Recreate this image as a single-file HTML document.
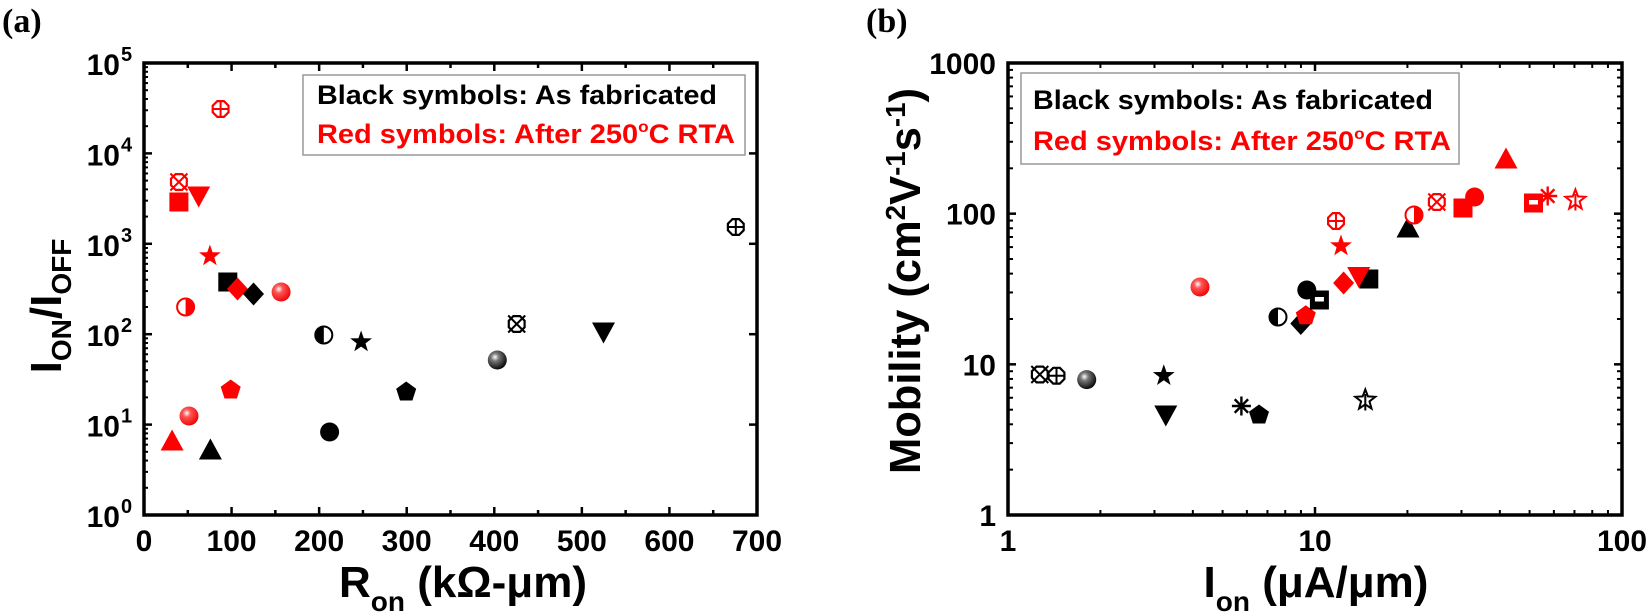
<!DOCTYPE html>
<html><head><meta charset="utf-8"><style>
html,body{margin:0;padding:0;background:#fff;}
svg{display:block;}
text{font-family:"Liberation Sans",Arial,sans-serif;font-weight:bold;}
</style></head><body>
<svg id="s" width="1650" height="615" viewBox="0 0 1650 615" xmlns="http://www.w3.org/2000/svg">
<defs>
<radialGradient id="gk" cx="0.38" cy="0.35" r="0.7"><stop offset="0" stop-color="#fff"/><stop offset="0.3" stop-color="#777"/><stop offset="1" stop-color="#000"/></radialGradient>
<radialGradient id="gr" cx="0.38" cy="0.35" r="0.7"><stop offset="0" stop-color="#fff"/><stop offset="0.3" stop-color="#f55"/><stop offset="1" stop-color="#e00"/></radialGradient>
</defs>
<text x="2" y="32" style="font-family:'Liberation Serif',serif;font-size:34px;font-weight:bold">(a)</text>
<g id="axA"></g>
<rect x="303" y="75" width="442" height="80" fill="#fff" stroke="#999" stroke-width="1.5"/>
<text x="317" y="104" font-size="27" fill="#000" textLength="400" lengthAdjust="spacingAndGlyphs">Black symbols: As fabricated</text>
<text x="317" y="143" font-size="27" fill="#f00" textLength="418" lengthAdjust="spacingAndGlyphs">Red symbols: After 250<tspan font-size="16" dy="-11">o</tspan><tspan dy="11">C RTA</tspan></text>
<text font-size="44" transform="translate(61,306) rotate(-90)" text-anchor="middle">I<tspan font-size="28" dy="10">ON</tspan><tspan dy="-10">/I</tspan><tspan font-size="28" dy="10">OFF</tspan></text>
<text x="463" y="597" font-size="44" text-anchor="middle">R<tspan font-size="28" dy="14">on</tspan><tspan dy="-14"> (kΩ-μm)</tspan></text>
<text x="866" y="32" style="font-family:'Liberation Serif',serif;font-size:34px;font-weight:bold">(b)</text>
<g id="axB"></g>
<rect x="1021" y="73" width="438" height="91" fill="#fff" stroke="#999" stroke-width="1.5"/>
<text x="1033" y="109" font-size="27" fill="#000" textLength="400" lengthAdjust="spacingAndGlyphs">Black symbols: As fabricated</text>
<text x="1033" y="150" font-size="27" fill="#f00" textLength="418" lengthAdjust="spacingAndGlyphs">Red symbols: After 250<tspan font-size="16" dy="-11">o</tspan><tspan dy="11">C RTA</tspan></text>
<text font-size="44" transform="translate(920,281) rotate(-90)" text-anchor="middle" textLength="386" lengthAdjust="spacingAndGlyphs">Mobility (cm<tspan font-size="28" dy="-15">2</tspan><tspan dy="15">V</tspan><tspan font-size="28" dy="-15">-1</tspan><tspan dy="15">s</tspan><tspan font-size="28" dy="-15">-1</tspan><tspan dy="15">)</tspan></text>
<text x="1316" y="597" font-size="44" text-anchor="middle">I<tspan font-size="28" dy="14">on</tspan><tspan dy="-14"> (μA/μm)</tspan></text>
<g id="pts"></g>
</svg>
<script>
var NS="http://www.w3.org/2000/svg";
function el(p,t,a){var e=document.createElementNS(NS,t);for(var k in a)e.setAttribute(k,a[k]);p.appendChild(e);return e;}
function txt(p,x,y,s,anchor,size){var t=el(p,"text",{x:x,y:y,"font-size":size||25,"text-anchor":anchor||"middle"});t.textContent=s;return t;}
var A=document.getElementById("axA");
var L=144,R=757,T=63,B=515;
for(var v=0;v<=700;v+=50){var x=L+v*(R-L)/700;var len=v%100==0?8:5;
 el(A,"line",{x1:x,y1:B,x2:x,y2:B-len,stroke:"#000","stroke-width":2.5});
 el(A,"line",{x1:x,y1:T,x2:x,y2:T+len,stroke:"#000","stroke-width":2.5});
 if(v%100==0)txt(A,x,551,""+v,"middle",30);}
var dec=(B-T)/5;
for(var d=0;d<=5;d++){var y=B-d*dec;
 el(A,"line",{x1:L,y1:y,x2:L+8,y2:y,stroke:"#000","stroke-width":2.5});
 el(A,"line",{x1:R,y1:y,x2:R-8,y2:y,stroke:"#000","stroke-width":2.5});
 txt(A,120,y+12,"10","end",30);txt(A,121,y-2,""+d,"start",20);
 if(d<5)for(var m=2;m<10;m++){var ym=y-Math.log10(m)*dec;el(A,"line",{x1:L,y1:ym,x2:L+4,y2:ym,stroke:"#000","stroke-width":2});}}
el(A,"rect",{x:L,y:T,width:R-L,height:B-T,fill:"none",stroke:"#000","stroke-width":3.5});
var Bx=document.getElementById("axB");
var L2=1008,R2=1622;
var dx=(R2-L2)/2,dy=(B-T)/3;
for(var d=0;d<=2;d++){var x=L2+d*dx;
 el(Bx,"line",{x1:x,y1:B,x2:x,y2:B-8,stroke:"#000","stroke-width":2.5});
 el(Bx,"line",{x1:x,y1:T,x2:x,y2:T+8,stroke:"#000","stroke-width":2.5});
 txt(Bx,x,551,["1","10","100"][d],"middle",30);
 if(d<2)for(var m=2;m<10;m++){var xm=x+Math.log10(m)*dx;el(Bx,"line",{x1:xm,y1:B,x2:xm,y2:B-5,stroke:"#000","stroke-width":2});el(Bx,"line",{x1:xm,y1:T,x2:xm,y2:T+5,stroke:"#000","stroke-width":2});}}
for(var d=0;d<=3;d++){var y=B-d*dy;
 el(Bx,"line",{x1:L2,y1:y,x2:L2+8,y2:y,stroke:"#000","stroke-width":2.5});
 el(Bx,"line",{x1:R2,y1:y,x2:R2-8,y2:y,stroke:"#000","stroke-width":2.5});
 txt(Bx,996,y+11,["1","10","100","1000"][d],"end",30);
 if(d<3)for(var m=2;m<10;m++){var ym=y-Math.log10(m)*dy;el(Bx,"line",{x1:L2,y1:ym,x2:L2+5,y2:ym,stroke:"#000","stroke-width":2});el(Bx,"line",{x1:R2,y1:ym,x2:R2-5,y2:ym,stroke:"#000","stroke-width":2});}}
el(Bx,"rect",{x:L2,y:T,width:R2-L2,height:B-T,fill:"none",stroke:"#000","stroke-width":3.5});
var P=document.getElementById("pts");
function poly(pts){return pts.map(function(p){return p[0].toFixed(1)+","+p[1].toFixed(1)}).join(" ");}
function star(x,y,r,ri){var a=[];for(var i=0;i<10;i++){var rr=i%2?ri:r;var an=-Math.PI/2+i*Math.PI/5;a.push([x+rr*Math.cos(an),y+rr*Math.sin(an)]);}return poly(a);}
function oct(x,y,r){var a=[];for(var i=0;i<8;i++){var an=Math.PI/8+i*Math.PI/4;a.push([x+r*Math.cos(an),y+r*Math.sin(an)]);}return poly(a);}
function mk(type,x,y,c){var col=c=="r"?"#f00":"#000";var r=9.5;
 switch(type){
 case"sq":el(P,"rect",{x:x-r,y:y-r,width:2*r,height:2*r,fill:col});break;
 case"hsq":el(P,"rect",{x:x-r,y:y-r,width:2*r,height:2*r,fill:col});el(P,"rect",{x:x-4.5,y:y-3,width:9,height:4.5,fill:"#fff"});break;
 case"tu":el(P,"polygon",{points:poly([[x,y-r-2],[x+r+2,y+r],[x-r-2,y+r]]),fill:col});break;
 case"td":el(P,"polygon",{points:poly([[x,y+r+2],[x+r+2,y-r],[x-r-2,y-r]]),fill:col});break;
 case"di":el(P,"polygon",{points:poly([[x,y-r-2],[x+r+1,y],[x,y+r+2],[x-r-1,y]]),fill:col});break;
 case"st":el(P,"polygon",{points:star(x,y,r+2,4.6),fill:col});break;
 case"sto":el(P,"polygon",{points:star(x,y,r+1,4.4),fill:"none",stroke:col,"stroke-width":2});el(P,"line",{x1:x,y1:y-6,x2:x,y2:y+r+1,stroke:col,"stroke-width":2});break;
 case"pe":var a=[];for(var i=0;i<5;i++){var an=-Math.PI/2+i*2*Math.PI/5;a.push([x+(r+1)*Math.cos(an),y+(r+1)*Math.sin(an)]);}el(P,"polygon",{points:poly(a),fill:col});break;
 case"ci":el(P,"circle",{cx:x,cy:y,r:r,fill:col});break;
 case"sp":el(P,"circle",{cx:x,cy:y,r:r,fill:c=="r"?"url(#gr)":"url(#gk)"});break;
 case"hc":el(P,"circle",{cx:x,cy:y,r:r-1,fill:"#fff",stroke:col,"stroke-width":2});
   var isL=c!="r";el(P,"path",{d:"M"+x+","+(y-r+1)+" A"+(r-1)+","+(r-1)+" 0 0 "+(isL?0:1)+" "+x+","+(y+r-1)+" Z",fill:col});break;
 case"cp":el(P,"polygon",{points:oct(x,y,r-1),fill:"none",stroke:col,"stroke-width":2.2});el(P,"line",{x1:x-r+1,y1:y,x2:x+r-1,y2:y,stroke:col,"stroke-width":2});el(P,"line",{x1:x,y1:y-r+1,x2:x,y2:y+r-1,stroke:col,"stroke-width":2});break;
 case"cx":el(P,"polygon",{points:oct(x,y,r-1),fill:"none",stroke:col,"stroke-width":2.2});el(P,"line",{x1:x-r+1,y1:y-r+1,x2:x+r-1,y2:y+r-1,stroke:col,"stroke-width":2});el(P,"line",{x1:x-r+1,y1:y+r-1,x2:x+r-1,y2:y-r+1,stroke:col,"stroke-width":2});break;
 case"as":for(var i=0;i<4;i++){var an=i*Math.PI/4;el(P,"line",{x1:x-r*Math.cos(an),y1:y-r*Math.sin(an),x2:x+r*Math.cos(an),y2:y+r*Math.sin(an),stroke:col,"stroke-width":2.4});}break;
 }}
var data=[
["cp",220.6,109,"r"],["cx",178.9,182,"r"],["sq",178.9,202,"r"],["td",198.7,196,"r"],["st",209.9,256,"r"],
["sq",227.8,282,"k"],["di",237.5,289,"r"],["di",253.5,294,"k"],["sp",281.1,292,"r"],["hc",185.6,307,"r"],
["hc",323.8,335,"k"],["st",361.1,342,"k"],["cx",516.7,324,"k"],["td",603.5,332,"k"],["cp",735.8,227,"k"],
["sp",497.3,360,"k"],["pe",406.2,392,"k"],["pe",230.7,390,"r"],["sp",189,416,"r"],["ci",329.6,432,"k"],
["tu",172.1,441,"r"],["tu",210.4,450,"k"],
["cx",1039.8,374.5,"k"],["cp",1056.5,375.7,"k"],["sp",1086.7,379.6,"k"],["st",1163.8,375.7,"k"],["td",1165.8,415,"k"],
["as",1241.4,406,"k"],["pe",1259,415,"k"],["sto",1365.3,400,"k"],["sp",1200,287,"r"],["hc",1278,317,"k"],
["di",1300.8,323.5,"k"],["ci",1306.8,290,"k"],["pe",1305.8,315.7,"r"],["hsq",1319.4,300,"k"],["cp",1336,221,"r"],
["st",1341,246,"r"],["di",1343.6,283,"r"],["sq",1368.8,279,"k"],["td",1358.7,276.5,"r"],["tu",1408,228,"k"],
["hc",1414,215,"r"],["cx",1436.8,202,"r"],["sq",1463,208,"r"],["ci",1474.6,197,"r"],["tu",1506,159,"r"],
["hsq",1533.5,203,"r"],["as",1547.7,196,"r"],["sto",1575.4,200,"r"]
];
data.forEach(function(d){mk(d[0],d[1],d[2],d[3]);});
</script>
</body></html>
